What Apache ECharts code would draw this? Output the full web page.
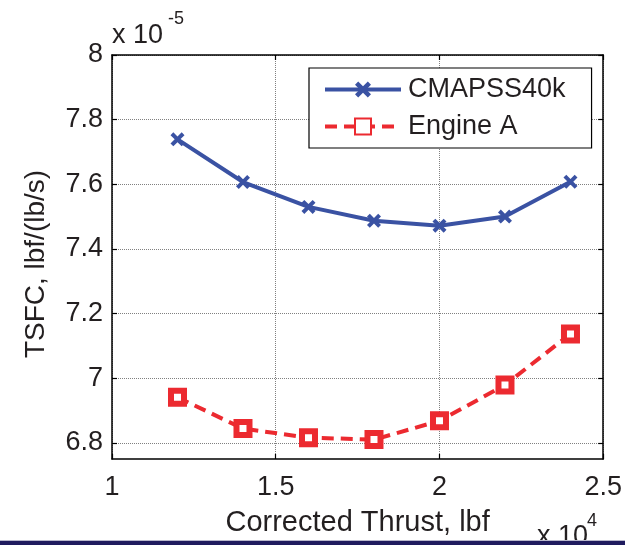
<!DOCTYPE html>
<html>
<head>
<meta charset="utf-8">
<script src="https://cdn.jsdelivr.net/npm/echarts@6/dist/echarts.min.js"></script>
<style>
  html, body { margin: 0; padding: 0; background: #fff; }
  #chart { width: 625px; height: 545px; }
</style>
</head>
<body>
<div id="chart"></div>
<script>
// Corrected thrust, in units of 10^4 lbf
const thrust = [1.2, 1.4, 1.6, 1.8, 2.0, 2.2, 2.4];
// TSFC, in units of 10^-5 lbf/(lb/s)
const tsfcCmapss = [7.739, 7.607, 7.530, 7.487, 7.472, 7.500, 7.608];
const tsfcEngineA = [6.941, 6.844, 6.816, 6.810, 6.868, 6.979, 7.137];
const seriesNames = ['CMAPSS40k', 'Engine A'];
const yTickValues = [6.8, 7, 7.2, 7.4, 7.6, 7.8, 8];
const xTickValues = [1, 1.5, 2, 2.5];

const FONT = '"Liberation Sans", Arial, Helvetica, sans-serif';
const TEXT = '#231f20';
const BLUE = '#3a52a3';
const RED = '#ec2a30';

const xMin = xTickValues[0], xMax = xTickValues[xTickValues.length - 1];
const xStep = xTickValues[1] - xTickValues[0];
const yMin = 6.75, yMax = 8;

const pairs = (xs, ys) => xs.map((x, i) => [x, ys[i]]);

// Bold "x" marker
const crossPath = 'path://M2,0L5,3L8,0L10,2L7,5L10,8L8,10L5,7L2,10L0,8L3,5L0,2Z';

const chart = echarts.init(document.getElementById('chart'), null, { renderer: 'canvas' });

const frameLine = { show: true, lineStyle: { color: '#000', width: 1.5 } };
const inTick = { show: true, inside: true, length: 5, lineStyle: { color: '#000', width: 1.2 } };

chart.setOption({
  animation: false,
  backgroundColor: '#fff',
  textStyle: { fontFamily: FONT },
  grid: { left: 112, right: 21, top: 55, bottom: 86, containLabel: false },
  legend: {
    data: seriesNames,
    orient: 'vertical',
    left: 309,
    top: 68,
    padding: [8, 26, 8, 14],
    itemGap: 10,
    itemWidth: 76,
    itemHeight: 20,
    lineStyle: { width: 4 },
    borderColor: '#000',
    borderWidth: 1.2,
    backgroundColor: '#fff',
    textStyle: { fontFamily: FONT, fontSize: 27, color: TEXT, padding: [0, 0, 0, 2] }
  },
  xAxis: [
    {
      type: 'value', min: xMin, max: xMax, interval: xStep,
      name: 'Corrected Thrust, lbf', nameLocation: 'middle', nameGap: 49,
      nameTextStyle: { fontFamily: FONT, fontSize: 29, color: TEXT },
      axisLine: frameLine, axisTick: inTick,
      axisLabel: { fontFamily: FONT, fontSize: 27, color: TEXT, margin: 15 },
      splitLine: { show: true, lineStyle: { color: '#808080', type: 'dotted', width: 1 } }
    },
    {
      type: 'value', position: 'top', min: xMin, max: xMax, interval: xStep,
      axisLine: frameLine, axisTick: inTick,
      axisLabel: { show: false }, splitLine: { show: false }
    }
  ],
  yAxis: [
    {
      type: 'value', min: yMin, max: yMax,
      name: 'TSFC, lbf/(lb/s)', nameLocation: 'middle', nameGap: 62, nameRotate: 90,
      nameTextStyle: { fontFamily: FONT, fontSize: 28, color: TEXT, padding: [0, 14, 0, 0] },
      axisLine: frameLine,
      axisTick: Object.assign({ customValues: yTickValues }, inTick),
      axisLabel: { customValues: yTickValues, fontFamily: FONT, fontSize: 27, color: TEXT, margin: 9 },
      splitLine: { show: true, lineStyle: { color: '#808080', type: 'dotted', width: 1 } }
    },
    {
      type: 'value', position: 'right', min: yMin, max: yMax,
      axisLine: frameLine,
      axisTick: Object.assign({ customValues: yTickValues }, inTick),
      axisLabel: { show: false }, splitLine: { show: false }
    }
  ],
  series: [
    {
      name: seriesNames[0], type: 'line',
      data: pairs(thrust, tsfcCmapss),
      symbol: crossPath, symbolSize: 14, showSymbol: true,
      lineStyle: { color: BLUE, width: 4 },
      itemStyle: { color: BLUE }
    },
    {
      name: seriesNames[1], type: 'line',
      data: pairs(thrust, tsfcEngineA),
      symbol: 'rect', symbolSize: 13, showSymbol: true,
      lineStyle: { color: RED, width: 4, type: [12, 7] },
      itemStyle: { color: '#fff', borderColor: RED, borderWidth: 6 }
    }
  ],
  graphic: [
    { type: 'text', left: 112, top: 22, style: { text: 'x 10', font: '27px ' + FONT, fill: TEXT } },
    { type: 'text', left: 168, top: 10, style: { text: '-5', font: '18px ' + FONT, fill: TEXT } },
    { type: 'text', left: 537, top: 523, style: { text: 'x 10', font: '27px ' + FONT, fill: TEXT } },
    { type: 'text', left: 587, top: 512, style: { text: '4', font: '18px ' + FONT, fill: TEXT } },
    { type: 'rect', left: 0, top: 540, shape: { width: 625, height: 1 }, style: { fill: '#b9b8cc' }, z: 100 },
    { type: 'rect', left: 0, top: 541, shape: { width: 625, height: 4 }, style: { fill: '#1f1b5e' }, z: 100 }
  ]
});
</script>
</body>
</html>
